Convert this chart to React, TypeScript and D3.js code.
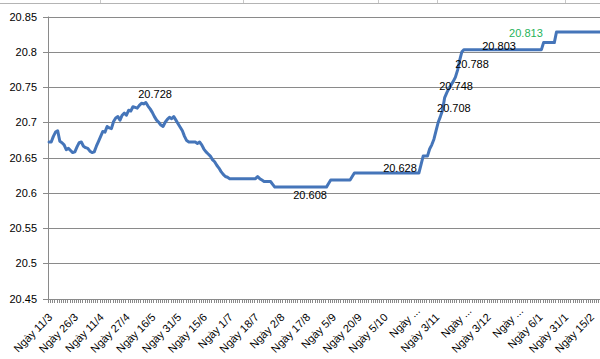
import React from 'react';
import * as d3 from 'd3';

// Exchange rate series (one value per category)
const values: number[] = [
  20.672, 20.672, 20.680, 20.686, 20.688, 20.673, 20.671, 20.668, 20.661, 20.663,
  20.660, 20.657, 20.658, 20.665, 20.671, 20.672, 20.666, 20.664, 20.663, 20.659,
  20.657, 20.658, 20.666, 20.673, 20.680, 20.687, 20.686, 20.694, 20.692, 20.691,
  20.701, 20.706, 20.708, 20.703, 20.710, 20.713, 20.710, 20.717, 20.716, 20.722,
  20.721, 20.720, 20.724, 20.727, 20.726, 20.728, 20.723, 20.719, 20.714, 20.708,
  20.703, 20.700, 20.696, 20.694, 20.700, 20.704, 20.707, 20.705, 20.708, 20.703,
  20.698, 20.693, 20.688, 20.680, 20.674, 20.672, 20.672, 20.672, 20.672, 20.670,
  20.672, 20.668, 20.662, 20.658, 20.655, 20.652, 20.647, 20.644, 20.639, 20.635,
  20.630, 20.626, 20.623, 20.622, 20.620, 20.620, 20.620, 20.620, 20.620, 20.620,
  20.620, 20.620, 20.620, 20.620, 20.620, 20.620, 20.620, 20.623, 20.620, 20.618,
  20.616, 20.616, 20.616, 20.616, 20.612, 20.608, 20.608, 20.608, 20.608, 20.608,
  20.608, 20.608, 20.608, 20.608, 20.608, 20.608, 20.608, 20.608, 20.608, 20.608,
  20.608, 20.608, 20.608, 20.608, 20.608, 20.608, 20.608, 20.608, 20.608, 20.608,
  20.613, 20.618, 20.618, 20.618, 20.618, 20.618, 20.618, 20.618, 20.618, 20.618,
  20.618, 20.623, 20.628, 20.628, 20.628, 20.628, 20.628, 20.628, 20.628, 20.628,
  20.628, 20.628, 20.628, 20.628, 20.628, 20.628, 20.628, 20.628, 20.628, 20.628,
  20.628, 20.628, 20.628, 20.628, 20.628, 20.628, 20.628, 20.628, 20.628, 20.628,
  20.628, 20.628, 20.628, 20.640, 20.652, 20.652, 20.652, 20.662, 20.668, 20.676,
  20.688, 20.700, 20.708, 20.717, 20.735, 20.742, 20.748, 20.753, 20.758, 20.764,
  20.774, 20.788, 20.800, 20.803, 20.803, 20.803, 20.803, 20.803, 20.803, 20.803,
  20.803, 20.803, 20.803, 20.803, 20.803, 20.803, 20.803, 20.803, 20.803, 20.803,
  20.803, 20.803, 20.803, 20.803, 20.803, 20.803, 20.803, 20.803, 20.803, 20.803,
  20.803, 20.803, 20.803, 20.803, 20.803, 20.803, 20.803, 20.803, 20.803, 20.803,
  20.813, 20.813, 20.813, 20.813, 20.813, 20.813, 20.828, 20.828, 20.828, 20.828,
  20.828, 20.828, 20.828, 20.828, 20.828, 20.828, 20.828, 20.828, 20.828, 20.828,
  20.828, 20.828, 20.828, 20.828, 20.828, 20.828, 20.828, 20.828, 20.828, 20.828,
];

// Category labels shown on the axis (one every 12 categories)
const tickLabels: string[] = [
  'Ngày 11/3', 'Ngày 26/3', 'Ngày 11/4', 'Ngày 27/4', 'Ngày 16/5', 'Ngày 31/5',
  'Ngày 15/6', 'Ngày 1/7', 'Ngày 18/7', 'Ngày 2/8', 'Ngày 17/8', 'Ngày 5/9',
  'Ngày 20/9', 'Ngày 5/10', 'Ngày ...', 'Ngày 3/11', 'Ngày ...', 'Ngày 3/12',
  'Ngày ...', 'Ngày 6/1', 'Ngày 31/1', 'Ngày 15/2',
];
const labelEvery = 12;

const yTickValues: number[] = [20.45, 20.5, 20.55, 20.6, 20.65, 20.7, 20.75, 20.8, 20.85];
const yTickLabels: string[] = ['20.45', '20.5', '20.55', '20.6', '20.65', '20.7', '20.75', '20.8', '20.85'];

// Data labels (text, category position of label centre, value at label centre)
const annotTexts: string[] = ['20.728', '20.608', '20.628', '20.708', '20.748', '20.788', '20.803', '20.813'];
const annotIndex: number[] = [49.3, 121.4, 163.2, 188.3, 189.3, 196.7, 209.3, 221.8];
const annotValue: number[] = [20.740, 20.597, 20.635, 20.720, 20.751, 20.783, 20.808, 20.827];
const annotHighlight: boolean[] = [false, false, false, false, false, false, false, true];

const topCellBorders: number[] = [100, 243, 378, 437, 565];

export default function App() {
  const W = 600, H = 359;
  const left = 48, top = 16.5, bottom = 298.5, step = 2.15;
  const N = values.length;
  const x = d3.scaleLinear().domain([0, N]).range([left, left + N * step]);
  const y = d3.scaleLinear().domain([20.45, 20.85]).range([bottom, top]);
  const right = x(N);
  const cx = (i: number) => x(i + 0.5);
  const line = d3.line<number>().x((_, i) => cx(i)).y(d => y(d)).curve(d3.curveLinear);
  const font = "'Liberation Sans', Arial, sans-serif";
  const grid = '#8a8a8a';

  return (
    <svg width={W} height={H} style={{ position: 'absolute', left: 0, top: 0, background: '#fff' }}
      fontFamily={font}>
      <rect x={0} y={0} width={W} height={H} fill="#fff" />
      {/* spreadsheet cell borders at the top */}
      <line x1={0} x2={W} y1={3.5} y2={3.5} stroke="#b4b4b4" strokeWidth={1} />
      {topCellBorders.map((bx, i) => (
        <line key={i} x1={bx + 0.5} x2={bx + 0.5} y1={0} y2={3} stroke="#c8c8c8" strokeWidth={1} />
      ))}
      {/* gridlines */}
      {yTickValues.map((v, i) => (
        <line key={'g' + i} x1={left - 5} x2={right} y1={Math.round(y(v)) + 0.5} y2={Math.round(y(v)) + 0.5}
          stroke={grid} strokeWidth={1} />
      ))}
      {/* y axis line */}
      <line x1={left + 0.5} x2={left + 0.5} y1={top} y2={bottom + 1} stroke={grid} strokeWidth={1} />
      {/* y tick labels */}
      {yTickValues.map((v, i) => (
        <text key={'yl' + i} x={37} y={y(v)} textAnchor="end" dominantBaseline="central"
          fontSize={11} fill="#000">{yTickLabels[i]}</text>
      ))}
      {/* x minor ticks */}
      {d3.range(N + 1).map(k => (
        <line key={'xt' + k} x1={Math.round(x(k)) + 0.5} x2={Math.round(x(k)) + 0.5}
          y1={Math.round(bottom) + 0.5} y2={Math.round(bottom) + 4} stroke={grid} strokeWidth={1} />
      ))}
      {/* x category labels */}
      {tickLabels.map((t, k) => {
        const xt = cx(k * labelEvery);
        const shift = t.endsWith('...') ? 9 : 0;
        return (
          <text key={'xl' + k} transform={`translate(${xt + 4},${318}) rotate(-45)`} dx={shift}
            textAnchor="end" fontSize={11} fill="#000">{t}</text>
        );
      })}
      {/* data line */}
      <path d={line(values) || ''} fill="none" stroke="#4575b9" strokeWidth={3}
        strokeLinejoin="round" strokeLinecap="round" />
      {/* data labels */}
      {annotTexts.map((t, k) => (
        <text key={'a' + k} x={cx(annotIndex[k])} y={y(annotValue[k])} textAnchor="middle"
          dominantBaseline="central" fontSize={11}
          fill={annotHighlight[k] ? '#1fb35a' : '#000'}>{t}</text>
      ))}
    </svg>
  );
}
